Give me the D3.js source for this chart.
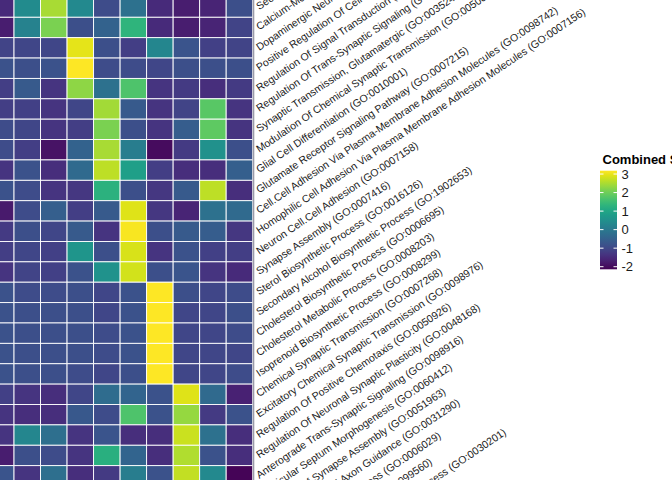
<!DOCTYPE html>
<html>
<head>
<meta charset="utf-8">
<script src="https://cdn.jsdelivr.net/npm/d3@7"></script>
<style>
  html, body { margin: 0; padding: 0; background: #fff; }
  svg { display: block; font-family: "Liberation Sans", Arial, Helvetica, sans-serif; }
</style>
</head>
<body>
<svg id="heatmap" width="672" height="480"></svg>
<script>
// columns of the heatmap (their axis is outside the visible crop)
const clusters = ['C1', 'C2', 'C3', 'C4', 'C5', 'C6', 'C7', 'C8', 'C9', 'C10'];

// GO terms, top to bottom (the last ones only show as labels)
const terms = [
    'Second-Messenger-Mediated Signaling (GO:0019932)',
    'Calcium-Mediated Signaling (GO:0019722)',
    'Dopaminergic Neuron Differentiation (GO:0071542)',
    'Positive Regulation Of Cell Migration (GO:0030335)',
    'Regulation Of Signal Transduction (GO:0009966)',
    'Regulation Of Trans-Synaptic Signaling (GO:0099177)',
    'Synaptic Transmission, Glutamatergic (GO:0035249)',
    'Modulation Of Chemical Synaptic Transmission (GO:0050804)',
    'Glial Cell Differentiation (GO:0010001)',
    'Glutamate Receptor Signaling Pathway (GO:0007215)',
    'Cell.Cell Adhesion Via Plasma-Membrane Adhesion Molecules (GO:0098742)',
    'Homophilic Cell Adhesion Via Plasma Membrane Adhesion Molecules (GO:0007156)',
    'Neuron Cell.Cell Adhesion (GO:0007158)',
    'Synapse Assembly (GO:0007416)',
    'Sterol Biosynthetic Process (GO:0016126)',
    'Secondary Alcohol Biosynthetic Process (GO:1902653)',
    'Cholesterol Biosynthetic Process (GO:0006695)',
    'Cholesterol Metabolic Process (GO:0008203)',
    'Isoprenoid Biosynthetic Process (GO:0008299)',
    'Chemical Synaptic Transmission (GO:0007268)',
    'Excitatory Chemical Synaptic Transmission (GO:0098976)',
    'Regulation Of Positive Chemotaxis (GO:0050926)',
    'Regulation Of Neuronal Synaptic Plasticity (GO:0048168)',
    'Anterograde Trans-Synaptic Signaling (GO:0098916)',
    'Ventricular Septum Morphogenesis (GO:0060412)',
    'Regulation Of Synapse Assembly (GO:0051963)',
    'Retinal Ganglion Cell Axon Guidance (GO:0031290)',
    'Proteoglycan Metabolic Process (GO:0006029)',
    'Synaptic Membrane Adhesion (GO:0099560)',
    'Heparan Sulfate Proteoglycan Metabolic Process (GO:0030201)'
];

// combined score, one row per visible term, one value per cluster
const scores = [
    [-1.50, 0.41, 2.49, 0.36, -0.92, -0.17, -1.50, -1.71, -1.61, -0.86],
    [-1.71, 0.20, 2.12, -0.86, -0.49, 1.32, -1.50, -1.71, -1.61, -1.08],
    [-1.08, -1.02, -1.02, 2.97, -0.86, -1.18, 0.31, -0.76, -1.13, -1.08],
    [-0.81, -0.86, -0.81, 3.18, -0.92, -0.92, -1.02, -0.86, -0.86, -0.86],
    [-1.18, -0.65, -1.34, 2.28, -0.17, 1.69, -1.34, -1.24, -1.45, -1.24],
    [-1.18, -1.13, -1.34, -1.02, 2.44, -0.65, -1.34, -1.08, 1.80, -1.34],
    [-0.92, -1.02, -1.34, -1.18, 2.12, -0.86, -1.34, -0.60, 1.85, -1.34],
    [-0.92, -1.18, -1.87, -0.49, 2.49, 0.09, -1.98, -1.24, 0.52, -0.86],
    [-1.34, -0.81, -1.45, -0.33, 2.65, 0.84, -1.18, -1.45, -1.45, -0.54],
    [-0.81, -0.92, -1.34, -1.29, 1.26, -0.86, -1.29, -0.65, 2.65, -1.45],
    [-1.77, -0.92, -0.54, -1.18, -0.65, 2.91, -1.29, -1.61, -0.17, -0.33],
    [-1.24, -0.86, -1.02, -0.65, -1.34, 3.13, -0.86, -0.65, -0.60, -1.29],
    [-1.18, -1.02, -1.13, 0.63, -0.86, 2.86, -1.34, -0.81, -1.13, -1.18],
    [-1.34, -1.08, -1.13, -0.81, 0.57, 2.81, -0.86, -0.76, -1.34, -1.50],
    [-0.81, -0.92, -0.92, -0.86, -1.02, -0.81, 3.18, -0.86, -1.02, -0.92],
    [-0.81, -0.86, -0.86, -0.86, -1.02, -0.81, 3.18, -1.02, -1.02, -0.86],
    [-0.81, -0.86, -0.86, -0.86, -0.92, -0.81, 3.18, -1.02, -1.02, -0.92],
    [-0.81, -0.86, -0.86, -0.86, -0.92, -0.81, 3.16, -1.02, -1.02, -1.02],
    [-0.81, -0.86, -0.86, -0.92, -1.02, -0.86, 3.17, -1.02, -1.02, -0.92],
    [-1.13, -1.34, -1.45, -1.02, -0.28, -0.44, -0.81, 2.91, -0.33, -1.66],
    [-1.34, -1.45, -1.45, -0.70, -0.92, 1.69, -0.81, 2.33, -1.24, -0.81],
    [-1.34, 0.31, -0.22, -1.34, -0.76, -1.45, -1.45, 2.75, -0.17, -1.45],
    [-1.71, -0.86, -0.92, -1.34, 1.21, -0.44, -1.45, 2.54, -0.81, -1.45],
    [-0.76, -1.34, -0.22, -1.45, -1.24, 0.09, -0.81, 2.70, 0.36, -2.09]
];

// limits of the colour scale and legend breaks
const scoreRange = [-2.14, 3.18];
const legendBreaks = [-2, -1, 0, 1, 2, 3];
const legendTitle = 'Combined Score';

const svg = d3.select('#heatmap');

// the panel runs past the left and top edges of the picture
const rowStep = 20.38;
const panelTop = -3.1;

const xScale = d3.scaleBand()
    .domain(clusters)
    .range([-12.5, 252.7]);

const yScale = d3.scaleBand()
    .domain(terms)
    .range([panelTop, panelTop + rowStep * terms.length]);

const color = d3.scaleSequential(d3.interpolateViridis).domain(scoreRange);

const cells = [];
scores.forEach((row, i) => {
    row.forEach((v, j) => {
        cells.push({ term: terms[i], cluster: clusters[j], value: v });
    });
});

svg.append('g')
    .selectAll('rect')
    .data(cells)
    .enter()
    .append('rect')
    .attr('x', d => xScale(d.cluster))
    .attr('y', d => yScale(d.term))
    .attr('width', xScale.bandwidth())
    .attr('height', yScale.bandwidth())
    .attr('fill', d => color(d.value))
    .attr('stroke', 'white')
    .attr('stroke-width', 0.9);

// right axis: ticks and slanted term labels
const axisX = xScale.range()[1];

svg.append('line')
    .attr('x1', axisX + 0.8).attr('x2', axisX + 0.8)
    .attr('y1', 0).attr('y2', 480)
    .attr('stroke', '#9a9aa8')
    .attr('stroke-width', 1.6);

svg.append('g')
    .selectAll('text')
    .data(terms)
    .enter()
    .append('text')
    .attr('transform', d => `translate(${axisX + 4.5},${yScale(d) + yScale.bandwidth() / 2}) rotate(-34)`)
    .attr('dy', '0.35em')
    .attr('font-size', '10.5px')
    .attr('fill', '#1a1a1a')
    .text(d => d);

// colour bar legend
const barX = 600;
const barW = 17;
const legendY = d3.scaleLinear().domain(scoreRange).range([269.3, 170.7]);

const defs = svg.append('defs');
const grad = defs.append('linearGradient')
    .attr('id', 'scoreGrad')
    .attr('x1', 0).attr('x2', 0)
    .attr('y1', 1).attr('y2', 0);
grad.selectAll('stop')
    .data(d3.range(0, 1.0001, 0.05))
    .enter()
    .append('stop')
    .attr('offset', d => d)
    .attr('stop-color', d => color(scoreRange[0] + d * (scoreRange[1] - scoreRange[0])));

svg.append('rect')
    .attr('x', barX)
    .attr('y', legendY(scoreRange[1]))
    .attr('width', barW)
    .attr('height', legendY(scoreRange[0]) - legendY(scoreRange[1]))
    .attr('fill', 'url(#scoreGrad)');

const ticks = svg.append('g');
legendBreaks.forEach(b => {
    const y = legendY(b);
    ticks.append('line')
        .attr('x1', barX).attr('x2', barX + 3.5)
        .attr('y1', y).attr('y2', y)
        .attr('stroke', 'white').attr('stroke-width', 1);
    ticks.append('line')
        .attr('x1', barX + barW - 3.5).attr('x2', barX + barW)
        .attr('y1', y).attr('y2', y)
        .attr('stroke', 'white').attr('stroke-width', 1);
    ticks.append('text')
        .attr('x', barX + barW + 4.5)
        .attr('y', y)
        .attr('dy', '0.36em')
        .attr('font-size', '13px')
        .attr('fill', '#1a1a1a')
        .text(b);
});

svg.append('text')
    .attr('x', 602.5)
    .attr('y', 164)
    .attr('font-size', '13px')
    .attr('font-weight', 'bold')
    .attr('fill', '#000')
    .text(legendTitle);
</script>
</body>
</html>
